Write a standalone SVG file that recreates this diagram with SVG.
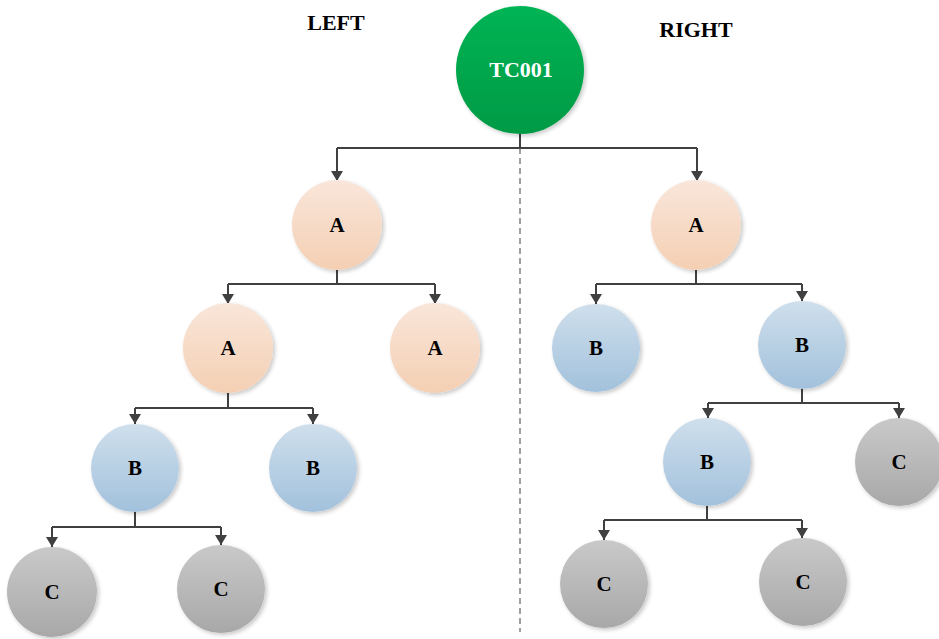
<svg xmlns="http://www.w3.org/2000/svg" width="939" height="639" viewBox="0 0 939 639">
  <defs>
    <linearGradient id="gGreen" x1="0" y1="0" x2="0" y2="1">
      <stop offset="0" stop-color="#00b454"/>
      <stop offset="1" stop-color="#009a45"/>
    </linearGradient>
    <linearGradient id="gOrange" x1="0" y1="0" x2="0" y2="1">
      <stop offset="0" stop-color="#f9e6da"/>
      <stop offset="1" stop-color="#f4cfb3"/>
    </linearGradient>
    <linearGradient id="gBlue" x1="0" y1="0" x2="0" y2="1">
      <stop offset="0" stop-color="#cfdfec"/>
      <stop offset="1" stop-color="#a2c1dc"/>
    </linearGradient>
    <linearGradient id="gGray" x1="0" y1="0" x2="0" y2="1">
      <stop offset="0" stop-color="#c9c9c9"/>
      <stop offset="1" stop-color="#a8a8a8"/>
    </linearGradient>
    <filter id="shadow" x="-20%" y="-20%" width="150%" height="150%">
      <feGaussianBlur in="SourceAlpha" stdDeviation="2"/>
      <feOffset dx="2" dy="2" result="b"/>
      <feComponentTransfer><feFuncA type="linear" slope="0.22"/></feComponentTransfer>
      <feMerge><feMergeNode/><feMergeNode in="SourceGraphic"/></feMerge>
    </filter>
    <marker id="arrow" viewBox="0 0 10 12" refX="10" refY="6" markerWidth="10" markerHeight="12" markerUnits="userSpaceOnUse" orient="auto">
      <path d="M0,0 L10,6 L0,12 z" fill="#404040"/>
    </marker>
  </defs>
  <style>
    .edge { fill: none; stroke: #404040; stroke-width: 2; }
    .arr { marker-end: url(#arrow); }
    .divider { fill: none; stroke: #404040; stroke-width: 1; stroke-dasharray: 6 4; }
    .node circle { filter: url(#shadow); }
    .lbl { font-family: "Liberation Serif", "Times New Roman", serif; font-weight: bold; font-size: 21px; text-anchor: middle; fill: #000; }
    .title { font-family: "Liberation Serif", "Times New Roman", serif; font-weight: bold; font-size: 22px; text-anchor: middle; fill: #000; }
    .root-lbl { fill: #fff; font-size: 22px; }
    .orange { fill: url(#gOrange); }
    .blue { fill: url(#gBlue); }
    .gray { fill: url(#gGray); }
  </style>

  <text class="title" x="336" y="30">LEFT</text>
  <text class="title" x="696" y="37">RIGHT</text>

  <g id="connectors">
    <line class="divider" x1="520" y1="148" x2="520" y2="632"/>
    <!-- root fan-out -->
    <path class="edge" d="M520,134 V148 M337,148 H697"/>
    <path class="edge arr" d="M337,148 V181"/>
    <path class="edge arr" d="M697,148 V181"/>
    <!-- left A -->
    <path class="edge" d="M337,270 V284 M228,284 H435"/>
    <path class="edge arr" d="M228,284 V304"/>
    <path class="edge arr" d="M435,284 V304"/>
    <!-- left A level 2 -->
    <path class="edge" d="M228,393 V408 M135,408 H313"/>
    <path class="edge arr" d="M135,408 V424"/>
    <path class="edge arr" d="M313,408 V424"/>
    <!-- left B -->
    <path class="edge" d="M135,512 V527 M52,527 H221"/>
    <path class="edge arr" d="M52,527 V547"/>
    <path class="edge arr" d="M221,527 V545"/>
    <!-- right A -->
    <path class="edge" d="M696,270 V284 M596,284 H802"/>
    <path class="edge arr" d="M596,284 V304"/>
    <path class="edge arr" d="M802,284 V301"/>
    <!-- right B -->
    <path class="edge" d="M802,389 V403 M708,403 H899"/>
    <path class="edge arr" d="M708,403 V418"/>
    <path class="edge arr" d="M899,403 V418"/>
    <!-- right B level 3 -->
    <path class="edge" d="M707,506 V520 M604,520 H802"/>
    <path class="edge arr" d="M604,520 V540"/>
    <path class="edge arr" d="M802,520 V538"/>
  </g>

  <g id="root" class="node">
    <circle cx="520" cy="70" r="64" fill="url(#gGreen)"/>
    <text class="lbl root-lbl" x="521" y="77">TC001</text>
  </g>

  <g id="left-a" class="node">
    <circle class="orange" cx="337" cy="225" r="45"/>
    <text class="lbl" x="337" y="232">A</text>
  </g>
  <g id="left-a-a" class="node">
    <circle class="orange" cx="228" cy="348" r="45"/>
    <text class="lbl" x="228" y="355">A</text>
  </g>
  <g id="left-a-a2" class="node">
    <circle class="orange" cx="435" cy="348" r="45"/>
    <text class="lbl" x="435" y="355">A</text>
  </g>
  <g id="left-b" class="node">
    <circle class="blue" cx="135" cy="468" r="44"/>
    <text class="lbl" x="135" y="475">B</text>
  </g>
  <g id="left-b2" class="node">
    <circle class="blue" cx="313" cy="468" r="44"/>
    <text class="lbl" x="313" y="475">B</text>
  </g>
  <g id="left-c" class="node">
    <circle class="gray" cx="52" cy="592" r="45"/>
    <text class="lbl" x="52" y="599">C</text>
  </g>
  <g id="left-c2" class="node">
    <circle class="gray" cx="221" cy="589" r="44"/>
    <text class="lbl" x="221" y="596">C</text>
  </g>

  <g id="right-a" class="node">
    <circle class="orange" cx="696" cy="225" r="45"/>
    <text class="lbl" x="696" y="232">A</text>
  </g>
  <g id="right-b" class="node">
    <circle class="blue" cx="596" cy="348" r="44"/>
    <text class="lbl" x="596" y="355">B</text>
  </g>
  <g id="right-b2" class="node">
    <circle class="blue" cx="802" cy="345" r="44"/>
    <text class="lbl" x="802" y="352">B</text>
  </g>
  <g id="right-b3" class="node">
    <circle class="blue" cx="707" cy="462" r="44"/>
    <text class="lbl" x="707" y="469">B</text>
  </g>
  <g id="right-c" class="node">
    <circle class="gray" cx="899" cy="462" r="44"/>
    <text class="lbl" x="899" y="469">C</text>
  </g>
  <g id="right-c2" class="node">
    <circle class="gray" cx="604" cy="584" r="44"/>
    <text class="lbl" x="604" y="591">C</text>
  </g>
  <g id="right-c3" class="node">
    <circle class="gray" cx="803" cy="582" r="44"/>
    <text class="lbl" x="803" y="589">C</text>
  </g>
</svg>
